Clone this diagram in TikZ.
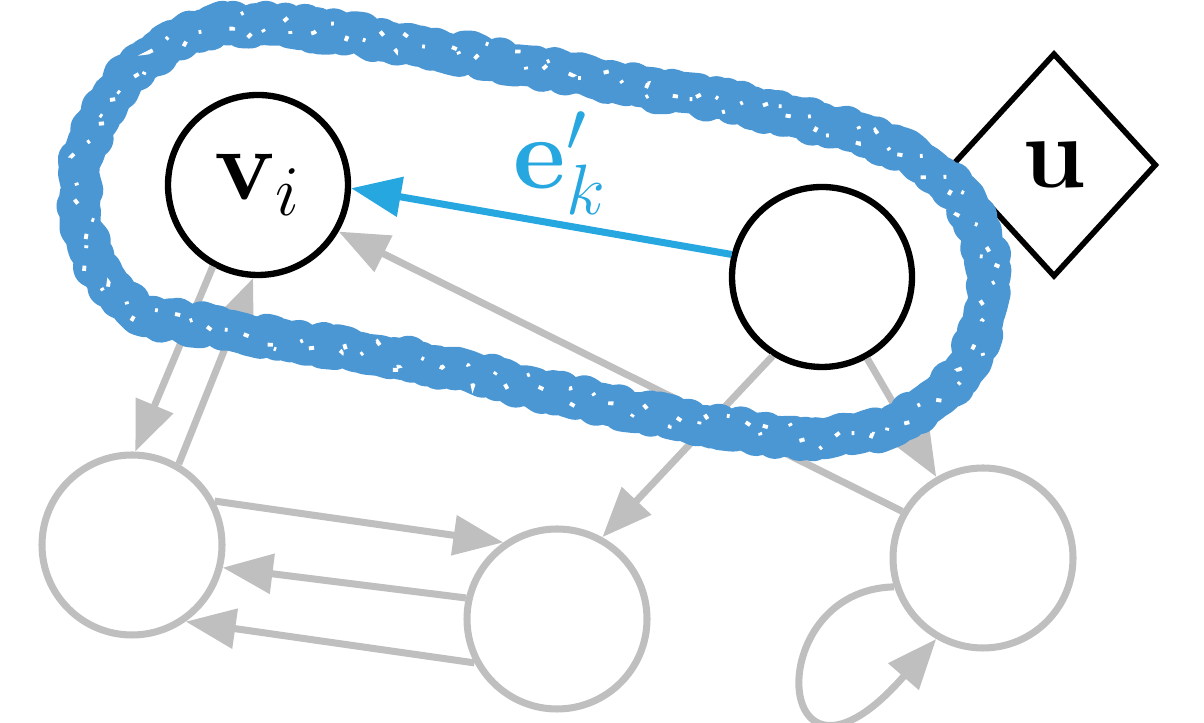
\RequirePackage{fix-cm}
\documentclass[tikz,border=0pt]{standalone}
\usetikzlibrary{positioning, arrows.meta, shapes.geometric, decorations.pathmorphing}

\definecolor{edgeblue}{RGB}{39,167,224}
\definecolor{markblue}{RGB}{74,151,212}

\begin{document}
\begin{tikzpicture}[
  >={Triangle[length=5mm, width=3.9mm]},
  every node/.style = {font=\fontsize{29}{34}\selectfont},
  vert/.style   = {draw, circle, line width=1.8pt, minimum size=1.8cm, inner sep=0pt},
  faded/.style  = {vert, draw=black!25, line width=2pt},
  ctrl/.style   = {draw, diamond, line width=1.6pt, minimum width=2.05cm, minimum height=2.24cm, inner sep=0pt},
  link/.style   = {->, draw=black!25, line width=2pt},
  hilite/.style = {->, draw=edgeblue, line width=2pt},
  markband/.style  = {markblue, line width=4.1mm, line join=round,
                      decorate, decoration={random steps, segment length=1.8pt, amplitude=1.1pt}},
  markspeck/.style = {white, line width=1.1pt, dash pattern=on 1.5pt off 5pt on 0.8pt off 8pt,
                      decorate, decoration={random steps, segment length=3pt, amplitude=4pt}},
]
  \useasboundingbox (0,0) rectangle (12.04,-7.23);
  \pgfmathsetseed{7}

  % ---- highlighted part: v_i, its neighbour and the input ----
  \node[vert]  (vi) at (2.58,-1.85) {$\mathbf{v}_i$};
  \node[vert]  (rc) at (8.22,-2.77) {};
  \node[ctrl]  (u)  at (10.54,-1.65) {$\mathbf{u}$};

  % ---- rest of the graph, greyed out ----
  \node[faded] (bl) at (1.32,-5.45) {};
  \node[faded] (bm) at (5.57,-6.19) {};
  \node[faded] (br) at (9.83,-5.58) {};

  \draw[link] (vi.241) -- (bl.88);
  \draw[link] (bl.60)  -- (vi.267);
  \draw[link] (br.150) -- (vi.330);
  \draw[link] (rc.238) -- (bm.61);
  \draw[link] (rc.299) -- (br.120);
  \draw[link] (bl.28)  -- (bm.125);
  \draw[link] (bm.167) -- (bl.346);
  \draw[link] (bm.208) -- (bl.305);
  \draw[link] (br.198) .. controls +(-1.36,-0.03) and +(-1.63,-1.87) .. (br.240);

  % ---- the edge e'_k ----
  \draw[hilite] (rc.166) -- node[above, pos=0.45, text=edgeblue, inner sep=2pt] {$\mathbf{e}'_k$} (vi.358);

  % hand-drawn loop round the pair
  \draw[markband] plot[smooth cycle, tension=0.7] coordinates {
    (0.80,-1.95) (1.10,-1.00) (1.80,-0.40) (2.60,-0.25) (4.20,-0.46) (6.00,-0.80)
    (8.00,-1.18) (9.25,-1.65) (9.82,-2.40) (9.82,-3.25) (9.40,-3.95) (8.60,-4.33)
    (7.60,-4.33) (6.00,-4.03) (4.20,-3.62) (2.30,-3.30) (1.20,-2.98)};
  \draw[markspeck] plot[smooth cycle, tension=0.7] coordinates {
    (0.80,-1.95) (1.10,-1.00) (1.80,-0.40) (2.60,-0.25) (4.20,-0.46) (6.00,-0.80)
    (8.00,-1.18) (9.25,-1.65) (9.82,-2.40) (9.82,-3.25) (9.40,-3.95) (8.60,-4.33)
    (7.60,-4.33) (6.00,-4.03) (4.20,-3.62) (2.30,-3.30) (1.20,-2.98)};
\end{tikzpicture}
\end{document}
